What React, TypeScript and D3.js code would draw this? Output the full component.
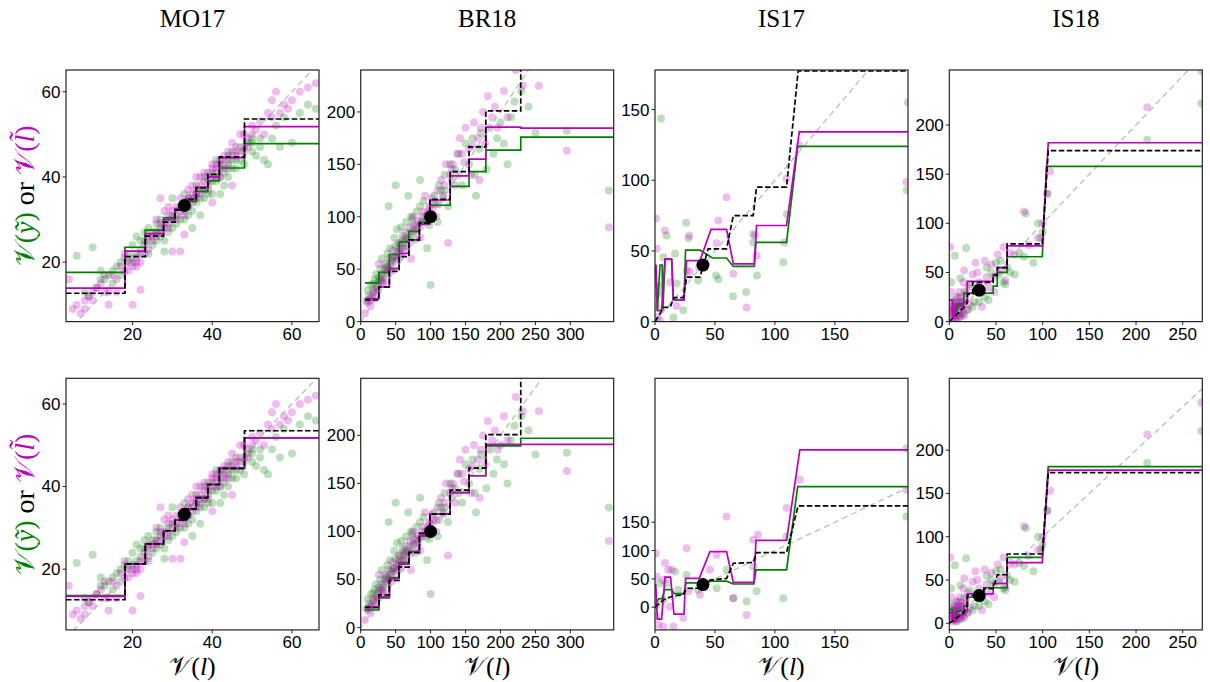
import React from 'react';
import * as d3 from 'd3';

type P = [number, number];

const titles = ['MO17', 'BR18', 'IS17', 'IS18'];

// ---- scatter data (x = V(l), y = V(y~) green / V(l~) magenta) ----
const mo17Green: P[] = [
  [6, 21.5], [10, 23.5], [8, 13], [12, 18], [14, 17], [15, 18], [16, 19], [17, 20], [18, 21], [19, 22],
  [20, 24], [21, 26], [22, 23], [23, 25], [24, 28], [25, 27], [26, 29], [27, 26], [28, 25], [28, 22.5],
  [29, 30], [30, 28], [31, 31], [32, 33], [33, 30], [34, 35], [35, 32], [35, 28], [36, 34], [37, 37],
  [38, 35], [38, 40], [39, 38], [40, 41], [41, 39], [42, 43], [42, 36], [43, 41], [44, 45], [45, 42],
  [46, 44], [47, 47], [48, 43], [49, 48], [50, 46], [51, 45], [52, 47], [53, 44], [54, 43], [55, 49],
  [57, 47], [60, 48], [62, 55], [64, 57], [66, 56], [30, 35], [26, 25], [24, 22], [37, 31], [40, 36],
  [44, 40], [46, 42], [21, 22], [25, 24], [29, 27], [33, 36], [36, 38], [39, 36], [41, 44], [43, 38],
  [47, 44], [50, 49], [12, 16], [17, 17], [23, 27], [27, 28], [31, 29], [34, 31], [38, 37], [45, 46],
  [19, 20], [20, 21], [22, 25], [24, 25], [26, 27], [27, 30], [29, 29], [30, 31], [32, 30], [33, 33],
  [34, 33], [35, 35], [36, 36], [37, 35], [39, 40], [40, 39], [41, 41], [42, 40], [43, 44], [44, 43],
  [45, 44], [48, 46], [50, 48], [52, 49], [56, 52], [58, 54], [15, 15], [11, 14], [9, 12], [13, 16],
];
const mo17Magenta: P[] = [
  [4, 16], [5, 9], [6, 10], [7, 8], [8, 11], [9, 12], [10, 11], [11, 14], [12, 15], [13, 13],
  [14, 13], [15, 17], [16, 16], [17, 19], [18, 18], [19, 20], [20, 19], [21, 21], [22, 20], [23, 24],
  [24, 26], [25, 25], [26, 27], [27, 29], [28, 32], [29, 31], [30, 32], [31, 33], [32, 35], [33, 34],
  [34, 35], [35, 36], [36, 37], [37, 38], [38, 39], [39, 41], [40, 40], [41, 42], [42, 44], [43, 45],
  [44, 46], [45, 48], [46, 47], [47, 50], [48, 50], [49, 49], [50, 50], [51, 51], [52, 53], [54, 55],
  [55, 58], [56, 60], [58, 57], [60, 58], [62, 60], [64, 61], [66, 62], [30, 22.5], [32, 22.5], [33, 26.5],
  [27, 35], [40, 34], [45, 38], [20, 10], [14, 10], [22, 13.5], [28, 28], [31, 30], [34, 33], [36, 35],
  [38, 41], [41, 40], [43, 43], [46, 45], [49, 47], [35, 38], [37, 36], [39, 37], [29, 33], [26, 30],
  [42, 40], [44, 42], [24, 23], [21, 19], [18, 22], [40, 43], [33, 32], [36, 40],
  [19, 18], [20, 20], [21, 20], [22, 22], [23, 22], [25, 26], [26, 26], [27, 27], [28, 29], [29, 28],
  [30, 30], [31, 31], [32, 32], [33, 31], [34, 37], [35, 34], [36, 36], [37, 40], [38, 37], [39, 39],
  [40, 42], [41, 43], [42, 42], [43, 42], [44, 44], [45, 45], [46, 46], [47, 46], [48, 47], [50, 52],
  [53, 50], [55, 54], [57, 55], [59, 56], [16, 13], [13, 17], [10, 13], [8, 9],
];

const br18Green: P[] = [
  [8, 20], [10, 30], [12, 25], [15, 35], [18, 28], [20, 40], [22, 45], [25, 38], [28, 50], [30, 60],
  [32, 42], [35, 55], [38, 65], [40, 50], [42, 70], [45, 60], [48, 80], [50, 72], [52, 88], [55, 65],
  [58, 90], [60, 82], [62, 75], [65, 95], [68, 120], [70, 85], [72, 100], [75, 92], [78, 78], [80, 105],
  [85, 110], [88, 95], [90, 115], [95, 70], [100, 35], [100, 102], [105, 120], [110, 95], [112, 130], [115, 125],
  [120, 140], [125, 110], [128, 150], [130, 135], [135, 145], [140, 160], [145, 130], [150, 170], [155, 150], [160, 175],
  [163, 140], [165, 120], [170, 165], [172, 180], [180, 145], [185, 185], [190, 160], [195, 175], [200, 190], [205, 170],
  [210, 150], [215, 195], [220, 210], [230, 220], [240, 205], [250, 180], [295, 182], [50, 130], [40, 110], [85, 135],
  [355, 125], [25, 30], [35, 45], [45, 52], [55, 70], [65, 78], [75, 85], [95, 95], [120, 125], [140, 140],
  [14, 22], [18, 36], [22, 32], [26, 42], [30, 38], [34, 50], [38, 52], [44, 58], [48, 62], [52, 60],
  [56, 75], [60, 70], [64, 80], [70, 78], [74, 98], [82, 90], [92, 100], [98, 92], [108, 112], [118, 118],
];
const br18Magenta: P[] = [
  [6, 8], [10, 18], [14, 15], [18, 30], [20, 22], [24, 35], [26, 55], [30, 45], [33, 38], [36, 52],
  [40, 60], [44, 48], [46, 68], [50, 58], [54, 75], [58, 62], [60, 78], [64, 85], [66, 72], [70, 90],
  [72, 60], [75, 100], [80, 88], [82, 96], [85, 80], [90, 105], [92, 120], [95, 98], [98, 110], [102, 118],
  [108, 100], [110, 125], [115, 135], [118, 120], [122, 150], [125, 75], [130, 145], [135, 130], [138, 160], [142, 175],
  [148, 152], [150, 185], [155, 165], [158, 140], [162, 190], [168, 175], [170, 135], [175, 200], [178, 170], [182, 215],
  [188, 195], [192, 205], [196, 185], [205, 220], [210, 195], [222, 240], [232, 225], [255, 225], [295, 163], [355, 90],
  [28, 40], [38, 48], [48, 62], [56, 68], [68, 80], [78, 92], [88, 100], [100, 108], [112, 112], [128, 140],
  [12, 20], [16, 24], [22, 28], [32, 36], [42, 55], [52, 66], [62, 70], [76, 86], [86, 94], [96, 104],
  [104, 112], [120, 130], [132, 150], [145, 160], [160, 168], [172, 185],
];

const is17GreenTop: P[] = [
  [5, 143.6], [26, 70], [28, 59], [9.7, 61], [16.7, 48], [18, 27], [23.6, 8], [15.3, 3], [51, 32.6], [53, 30],
  [65, 18], [76, 21], [82, 62], [82, 56], [85, 32.6], [107, 42], [110, 76], [211, 155], [210, 93], [2.8, 19.6],
  [1.4, 10], [36, 29], [7, 45.6], [4, 25],
];
const is17MagentaTop: P[] = [
  [0.8, 73], [1.4, 51.5], [8.3, 64.5], [28.6, 61], [29, 35.4], [51.4, 55.5], [52.8, 71.6], [59.7, 88], [65.3, 33.8], [76.4, 10],
  [84.7, 46.8], [83.3, 61], [107.8, 56], [109.7, 101], [120.3, 124.7], [209.7, 98.7], [12.5, 27.9], [4, 0.7], [2, 3], [18, 11],
  [26.4, 36], [36.7, 38.5],
];
const is17GreenBottom: P[] = [
  [4, 42], [9.7, 42], [16.7, 63], [19.4, 31], [26.4, 57], [36, 31], [51.4, 33.5], [59.7, 66], [65.3, 16], [76.4, 10],
  [82, 72], [84.7, 28], [107, 16], [109.7, 125], [209.7, 280], [209.7, 160], [7, 13], [1.4, 4],
];
const is17MagentaBottom: P[] = [
  [0.6, 95], [1.4, 54], [8.3, 78], [11, 66], [13.9, 66], [7, 48], [12.5, 1], [15.3, -34], [2.8, -31], [23.6, -19],
  [26.4, 104], [27.8, 28], [37.5, 22], [45.8, 66], [51.4, 92], [59.7, 160], [65.3, 16], [76.4, -13.5], [82, 119], [86, 128],
  [109.7, 175], [120.8, 225], [209.7, 207], [1.4, -16], [7, -34],
];

const is18Green: P[] = [
  [2, 40], [3, 22], [5, 15], [6, 67], [8, 10], [10, 25], [12, 44], [14, 20], [16, 30], [18, 75],
  [20, 12], [22, 38], [25, 15], [27, 20], [30, 35], [32, 20], [35, 30], [38, 25], [40, 55], [42, 22],
  [45, 50], [48, 45], [50, 60], [53, 48], [55, 62], [58, 40], [60, 38], [62, 55], [65, 50], [70, 48],
  [75, 70], [80, 66], [82, 110], [90, 60], [95, 100], [98, 85], [100, 91], [105, 130], [212, 185], [270, 222],
  [12, 5], [7, 2], [4, 8], [9, 16], [11, 12], [15, 8],
];
const is18Magenta: P[] = [
  [1, 76], [2, 30], [3, 15], [4, 5], [5, 20], [6, 12], [7, 8], [8, 25], [9, 3], [10, 15],
  [11, 30], [12, 6], [13, 20], [14, 10], [15, 40], [16, 52], [18, 28], [20, 35], [22, 18], [25, 48],
  [28, 60], [30, 50], [32, 40], [35, 15], [38, 62], [40, 45], [42, 35], [45, 58], [48, 30], [52, 68],
  [55, 52], [58, 76], [60, 42], [65, 70], [70, 68], [80, 112], [85, 78], [95, 85], [100, 100], [105, 130],
  [108, 153], [212, 218], [270, 255], [4, 10], [6, 4], [9, 18], [11, 8], [13, 14], [17, 22], [19, 12],
  [2, 8], [3, 2], [5, 14], [8, 6], [10, 20], [12, 24], [14, 16], [16, 6], [1, 12], [7, 18],
];

// ---- step lines (breaks + level per segment) ----
const mo17Breaks = [3.3, 18.1, 23.2, 27.8, 30.7, 33.5, 36.0, 38.9, 41.8, 48.1, 66.8];
const mo17GreenTop = [17.6, 23.5, 27.5, 30.4, 32.3, 34.2, 36.6, 39.1, 42.1, 47.8];
const mo17MagentaTop = [13.9, 22.6, 26.7, 30.0, 32.6, 34.9, 37.5, 40.0, 44.5, 51.8];
const mo17BlackTop = [12.7, 21.3, 26.1, 29.4, 32.2, 34.7, 37.5, 40.6, 44.7, 53.6];
const mo17GreenBottom = [13.6, 21.3, 26.1, 29.3, 31.9, 34.6, 37.3, 40.5, 44.4, 51.8];
const mo17MagentaBottom = [13.4, 21.3, 26.1, 29.3, 31.9, 34.6, 37.3, 40.5, 44.4, 51.8];
const mo17BlackBottom = [12.6, 21.3, 26.1, 29.3, 31.9, 34.6, 37.3, 40.5, 44.4, 53.5];

const br18Breaks = [6, 26, 41, 55, 69, 84, 99, 128, 155, 179, 229, 362];
const br18GreenTop = [37, 47, 64, 76, 86, 95, 111, 129, 143, 163.5, 176];
const br18MagentaTop = [22, 33, 50.5, 65, 78, 93, 116, 139, 155, 185.5, 184.5];
const br18BlackTop = [20.6, 33, 48, 62, 78, 94, 116.5, 143, 166.7, 201, 320];
const br18GreenBottom = [18.3, 31, 52, 67.5, 79, 95.5, 118, 140.5, 158, 189, 197];
const br18MagentaBottom = [21, 32, 51, 66, 79, 95.5, 118, 140.5, 158, 190.6, 190.6];
const br18BlackBottom = [21, 34, 49, 63, 78, 98, 118, 143, 166, 200.7, 330];

// ---- polyline lines for IS17 / IS18 ----
const is17MagentaLineTop: P[] = [[0.8, 40.4], [2, 7.8], [5.5, 7.8], [8.3, 44.4], [13.9, 44.4], [15.3, 15.4], [24.2, 15.4], [26.4, 43.2], [37.5, 43.2], [46.7, 65.2], [59.7, 65.2], [65.3, 40.9], [82.8, 40.9], [84.7, 68], [109.7, 68], [120.3, 134.2], [211, 134.2]];
const is17GreenLineTop: P[] = [[0.5, 40], [2, 8], [4.2, 40], [6, 40], [6.5, 8], [8.5, 44], [13.9, 44], [15.3, 15.4], [24.2, 15.4], [25.5, 50.5], [37.5, 50.5], [48, 45], [59.7, 45], [65.3, 39], [82.8, 39], [84.2, 56], [109.7, 56], [119, 124], [211, 124]];
const is17BlackLineTop: P[] = [[0, 0], [4, 5.4], [7, 10], [12.5, 10], [15.8, 17], [23.6, 17], [26.4, 31.4], [37.5, 31.4], [44.4, 51.5], [59.7, 51.5], [65.3, 75], [81.9, 75], [84.7, 95.2], [109.7, 95.2], [119.4, 177.3], [211, 177.3]];
const is17MagentaLineBottom: P[] = [[0.6, 41], [2, -21], [5.5, -21], [8.3, 53], [13, 53], [15.8, -12], [24.2, -12], [25.5, 51], [36.9, 51], [45.8, 98], [59.7, 98], [65.3, 44], [82.5, 44], [84.2, 118], [109.7, 118], [120.8, 277.6], [211, 277.6]];
const is17GreenLineBottom: P[] = [[0.5, 5], [3, 15], [6, 15], [8, 31], [14, 31], [16, 24], [24, 24], [26, 43], [38, 43], [48, 46], [59.7, 46], [65.3, 41], [82.5, 41], [84.2, 66], [109.7, 66], [119, 213], [211, 213]];
const is17BlackLineBottom: P[] = [[0, 0], [7, 13], [15.3, 20], [23.6, 22], [26.4, 33.5], [37.5, 33.5], [45.8, 48], [59.7, 51], [65.3, 77.6], [82, 79], [84.7, 96.5], [109.7, 96.5], [119.4, 179], [211, 179]];

const is18MagentaLineTop: P[] = [[0, 22], [3.5, 22], [3.5, 5], [6, 5], [6, 16], [15, 16], [15, 20], [19.3, 20], [19.3, 41], [47, 41], [47, 48], [51.4, 48], [51.4, 55], [62, 55], [62, 77], [99.6, 77], [106, 182], [271, 182]];
const is18GreenLineTop: P[] = [[0, 22], [3.5, 22], [3.5, 11], [8, 11], [8, 18], [15.7, 18], [15.7, 29], [47, 29], [47, 36], [51.4, 36], [51.4, 50], [62, 50], [62, 66], [99.6, 66], [104, 158], [271, 158]];
const is18BlackLineTop: P[] = [[0, 0], [15, 14], [19.3, 19], [19.3, 28], [25, 28], [25, 40], [47, 40], [47, 47], [51.4, 47], [51.4, 55], [62, 55], [62, 79], [99.6, 79], [106, 174], [271, 174]];
const is18GreenLineBottom: P[] = [[0, 16], [3.5, 16], [3.5, 6], [8, 6], [8, 14], [15.7, 14], [15.7, 20], [19.3, 20], [19.3, 30], [37, 30], [37, 41], [62, 41], [62, 76], [99.6, 76], [106, 181], [271, 181]];
const is18MagentaLineBottom: P[] = [[0, 12], [3.5, 12], [3.5, 2], [7, 2], [7, 10], [15.7, 10], [19.3, 14], [19.3, 34], [47, 34], [47, 46], [62, 46], [62, 70], [99.6, 70], [106, 177], [271, 177]];
const is18BlackLineBottom: P[] = [[0, 0], [15, 12], [19.3, 20], [19.3, 32], [37, 32], [37, 40], [47, 40], [51.4, 56], [62, 56], [62, 80], [99.6, 80], [106, 174], [271, 174]];

const refPoints: P[] = [[33, 33.3], [100, 100], [40, 40], [32, 32]];

const xDomains: P[] = [[3.3, 66.8], [0, 362], [0, 211], [0, 271]];
const yDomainsTop: P[] = [[6.05, 65.1], [0, 240], [0, 178], [0, 256]];
const yDomainsBottom: P[] = [[5.3, 66.2], [-2.4, 259.4], [-40, 404], [-7.7, 283]];
const xTicks = [[20, 40, 60], [0, 50, 100, 150, 200, 250, 300], [0, 50, 100, 150], [0, 50, 100, 150, 200, 250]];
const yTicks = [[20, 40, 60], [0, 50, 100, 150, 200], [0, 50, 100, 150], [0, 50, 100, 150, 200]];

const colX = [66, 360.7, 655, 949.3];
const rowY = [70, 378.3];
const W = 253;
const H = 251.6;

const GREEN = '#008000';
const MAGENTA = '#bf00bf';

const stepPts = (breaks: number[], vals: number[]): P[] =>
  breaks.map((b, i) => [b, vals[Math.min(i, vals.length - 1)]] as P);

interface PanelProps {
  id: string;
  x0: number;
  y0: number;
  xd: P;
  yd: P;
  xt: number[];
  yt: number[];
  green: P[];
  magenta: P[];
  gLine: P[];
  mLine: P[];
  kLine: P[];
  step: boolean;
  dot: P;
}

function Panel(p: PanelProps) {
  const x = d3.scaleLinear().domain(p.xd).range([0, W]);
  const y = d3.scaleLinear().domain(p.yd).range([H, 0]);
  const line = d3.line<P>().x(d => x(d[0])).y(d => y(d[1]));
  if (p.step) line.curve(d3.curveStepAfter);
  const lo = Math.min(p.xd[0], p.yd[0]);
  const hi = Math.max(p.xd[1], p.yd[1]);
  return (
    <g transform={`translate(${p.x0},${p.y0})`}>
      <defs>
        <clipPath id={p.id}>
          <rect x={0} y={0} width={W} height={H} />
        </clipPath>
      </defs>
      <g clipPath={`url(#${p.id})`}>
        {p.green.map((d, i) => (
          <circle key={'g' + i} cx={x(d[0])} cy={y(d[1])} r={4} fill={GREEN} fillOpacity={0.26} />
        ))}
        {p.magenta.map((d, i) => (
          <circle key={'m' + i} cx={x(d[0])} cy={y(d[1])} r={4} fill={MAGENTA} fillOpacity={0.26} />
        ))}
        <line x1={x(lo)} y1={y(lo)} x2={x(hi)} y2={y(hi)} stroke="#bbbbbb" strokeWidth={1.3} strokeDasharray="6,4" />
        <path d={line(p.gLine) || ''} fill="none" stroke={GREEN} strokeWidth={1.7} />
        <path d={line(p.mLine) || ''} fill="none" stroke={MAGENTA} strokeWidth={1.7} />
        <path d={line(p.kLine) || ''} fill="none" stroke="#000" strokeWidth={1.7} strokeDasharray="5.5,2.5" />
        <circle cx={x(p.dot[0])} cy={y(p.dot[1])} r={6.5} fill="#000" />
      </g>
      <rect x={0} y={0} width={W} height={H} fill="none" stroke="#222" strokeWidth={1.2} />
      {p.xt.map(t => (
        <g key={'xt' + t} transform={`translate(${x(t)},${H})`}>
          <line y2={3.5} stroke="#222" />
          <text y={18} textAnchor="middle" fontSize={17} fontFamily="'Liberation Sans', Arial, sans-serif">{t}</text>
        </g>
      ))}
      {p.yt.map(t => (
        <g key={'yt' + t} transform={`translate(0,${y(t)})`}>
          <line x2={-3.5} stroke="#222" />
          <text x={-5.5} dy="0.35em" textAnchor="end" fontSize={17} fontFamily="'Liberation Sans', Arial, sans-serif">{t}</text>
        </g>
      ))}
    </g>
  );
}

export default function App() {
  const greens = [mo17Green, br18Green, is17GreenTop, is18Green];
  const magentas = [mo17Magenta, br18Magenta, is17MagentaTop, is18Magenta];
  const greensB = [mo17Green, br18Green, is17GreenBottom, is18Green];
  const magentasB = [mo17Magenta, br18Magenta, is17MagentaBottom, is18Magenta];
  const linesTop: [P[], P[], P[], boolean][] = [
    [stepPts(mo17Breaks, mo17GreenTop), stepPts(mo17Breaks, mo17MagentaTop), stepPts(mo17Breaks, mo17BlackTop), true],
    [stepPts(br18Breaks, br18GreenTop), stepPts(br18Breaks, br18MagentaTop), stepPts(br18Breaks, br18BlackTop), true],
    [is17GreenLineTop, is17MagentaLineTop, is17BlackLineTop, false],
    [is18GreenLineTop, is18MagentaLineTop, is18BlackLineTop, false],
  ];
  const linesBottom: [P[], P[], P[], boolean][] = [
    [stepPts(mo17Breaks, mo17GreenBottom), stepPts(mo17Breaks, mo17MagentaBottom), stepPts(mo17Breaks, mo17BlackBottom), true],
    [stepPts(br18Breaks, br18GreenBottom), stepPts(br18Breaks, br18MagentaBottom), stepPts(br18Breaks, br18BlackBottom), true],
    [is17GreenLineBottom, is17MagentaLineBottom, is17BlackLineBottom, false],
    [is18GreenLineBottom, is18MagentaLineBottom, is18BlackLineBottom, false],
  ];
  const serif = "'Liberation Serif', 'DejaVu Serif', serif";
  return (
    <svg width={1210} height={682} style={{ position: 'absolute', left: 0, top: 0, background: '#fff' }}>
      {titles.map((t, i) => (
        <text key={t} x={colX[i] + W / 2} y={27} textAnchor="middle" fontSize={25} fontFamily={serif}>{t}</text>
      ))}
      {[0, 1].map(r => (
        <text key={'yl' + r} transform={`translate(34,${rowY[r] + H / 2}) rotate(-90)`} textAnchor="middle" fontSize={28} fontFamily={serif}>
          <tspan fill={GREEN}>𝒱(<tspan fontStyle="italic">ỹ</tspan>)</tspan>
          <tspan fill="#000"> or </tspan>
          <tspan fill={MAGENTA}>𝒱(<tspan fontStyle="italic">l̃</tspan>)</tspan>
        </text>
      ))}
      {colX.map((cx, i) => (
        <text key={'xl' + i} x={cx + W / 2} y={675} textAnchor="middle" fontSize={26} fontFamily={serif}>
          𝒱(<tspan fontStyle="italic">l</tspan>)
        </text>
      ))}
      {colX.map((cx, i) => (
        <Panel key={'t' + i} id={'ct' + i} x0={cx} y0={rowY[0]} xd={xDomains[i]} yd={yDomainsTop[i]}
          xt={xTicks[i]} yt={yTicks[i]} green={greens[i]} magenta={magentas[i]}
          gLine={linesTop[i][0]} mLine={linesTop[i][1]} kLine={linesTop[i][2]} step={linesTop[i][3]} dot={refPoints[i]} />
      ))}
      {colX.map((cx, i) => (
        <Panel key={'b' + i} id={'cb' + i} x0={cx} y0={rowY[1]} xd={xDomains[i]} yd={yDomainsBottom[i]}
          xt={xTicks[i]} yt={yTicks[i]} green={greensB[i]} magenta={magentasB[i]}
          gLine={linesBottom[i][0]} mLine={linesBottom[i][1]} kLine={linesBottom[i][2]} step={linesBottom[i][3]} dot={refPoints[i]} />
      ))}
    </svg>
  );
}
